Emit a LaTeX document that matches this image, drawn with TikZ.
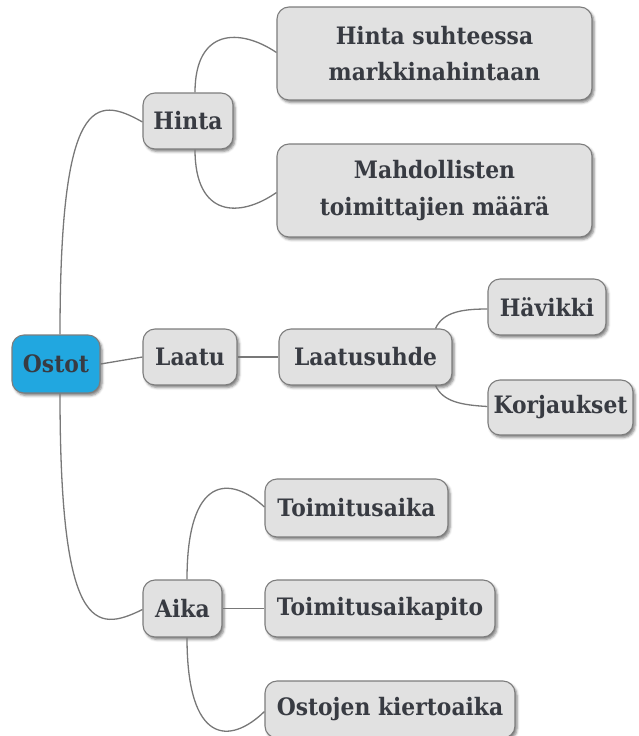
\documentclass[tikz,border=0pt]{standalone}
\usepackage{fontspec}
\newfontfamily\nodefont{DejaVu Serif}[UprightFont=* Bold, FakeStretch=0.91]
\usetikzlibrary{shadows.blur,calc}
\definecolor{boxfill}{RGB}{225,225,225}
\definecolor{boxline}{RGB}{125,125,125}
\definecolor{rootfill}{RGB}{33,167,224}
\definecolor{txt}{RGB}{56,59,66}
\definecolor{edge}{RGB}{120,120,120}
\tikzset{
  mm/.style={draw=boxline, line width=1.1pt, fill=boxfill, rounded corners=12pt,
    text=txt, align=center, inner sep=0pt,
    font=\nodefont\fontsize{24}{36.7}\selectfont,
    blur shadow={shadow xshift=2pt, shadow yshift=-2.5pt, shadow blur radius=2.5pt, shadow opacity=50}},
  root/.style={mm, fill=rootfill},
  link/.style={draw=edge, line width=1.3pt}
}
\begin{document}
\begin{tikzpicture}[x=1pt,y=-1pt]
\useasboundingbox (0,0) rectangle (638,736);
\node[root, minimum width=88pt, minimum height=58pt] (ostot) at (56,364) {Ostot};
\node[mm, minimum width=90pt, minimum height=56pt] (hinta) at (188,121) {Hinta};
\node[mm, minimum width=94pt, minimum height=56pt] (laatu) at (190,357) {Laatu};
\node[mm, minimum width=79pt, minimum height=57pt] (aika) at (182.5,608.5) {Aika};
\node[mm, minimum width=315pt, minimum height=93pt] (hs) at (434.5,53.5) {Hinta suhteessa\\markkinahintaan};
\node[mm, minimum width=315pt, minimum height=93pt] (md) at (434.5,190.5) {Mahdollisten\\toimittajien määrä};
\node[mm, minimum width=173pt, minimum height=56pt] (ls) at (365.5,357) {Laatusuhde};
\node[mm, minimum width=118pt, minimum height=56pt] (hv) at (547,307) {Hävikki};
\node[mm, minimum width=145pt, minimum height=55pt] (kj) at (560.5,407.5) {Korjaukset};
\node[mm, minimum width=183pt, minimum height=58pt] (ta) at (356.5,508) {Toimitusaika};
\node[mm, minimum width=230pt, minimum height=57pt] (tp) at (380,608.5) {Toimitusaikapito};
\node[mm, minimum width=250pt, minimum height=57pt] (ok) at (390,709.5) {Ostojen kiertoaika};

% root connectors
\draw[link] ($(ostot.north)+(4,0)$) .. controls (60,95) and (95,95) .. ($(hinta.west)+(0,1)$);
\draw[link] (ostot.east) -- (laatu.west);
\draw[link] ($(ostot.south)+(4,0)$) .. controls (60,633) and (95,633) .. ($(aika.west)+(0,1)$);
% Hinta
\draw[link] ($(hinta.north)+(7,0)$) .. controls (195,28) and (240,28) .. ($(hs.west)+(0,-1)$);
\draw[link] ($(hinta.south)+(7,0)$) .. controls (195,218) and (240,218) .. ($(md.west)+(0,2)$);
% Laatu
\draw[link] (laatu.east) -- (ls.west);
\draw[link] ($(ls.north east)+(-17,0)$) .. controls (443,312) and (462,309) .. ($(hv.west)+(0,2)$);
\draw[link] ($(ls.south east)+(-17,0)$) .. controls (443,402) and (462,405) .. ($(kj.west)+(0,-1)$);
% Aika
\draw[link] ($(aika.north)+(4.5,0)$) .. controls (187,475) and (230,475) .. ($(ta.west)+(0,-1)$);
\draw[link] (aika.east) -- (tp.west);
\draw[link] ($(aika.south)+(4.5,0)$) .. controls (187,745) and (230,745) .. ($(ok.west)+(0,2)$);
\end{tikzpicture}
\end{document}
